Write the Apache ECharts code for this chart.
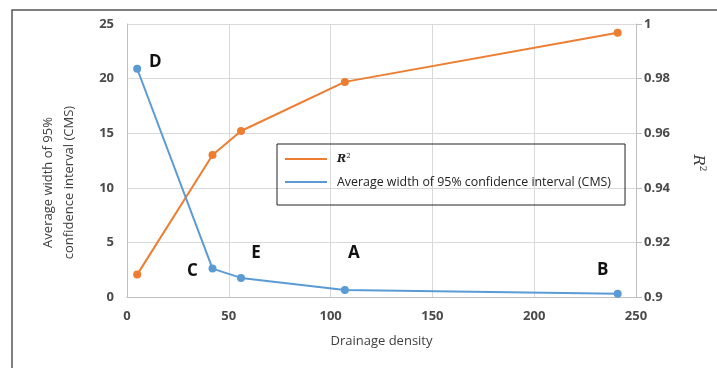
<!DOCTYPE html>
<html>
<head>
<meta charset="utf-8">
<script src="https://cdn.jsdelivr.net/npm/echarts@6/dist/echarts.min.js"></script>
<style>
html, body { margin: 0; padding: 0; background: #fff; }
#chart { width: 717px; height: 368px; }
</style>
</head>
<body>
<div id="chart"></div>
<script>
// values
const drainageDensity = [5, 42, 56, 107, 241]
const ciWidth = [20.9, 2.6, 1.75, 0.65, 0.3]
const rSquared = [0.9082, 0.952, 0.9608, 0.9788, 0.9968]
const pointNames = ['D', 'C', 'E', 'A', 'B']

// where each letter sits relative to its point
const letterOffsets = [[18, -7], [-20, 3], [15, -25], [9, -37], [-15, -24]]

const ORANGE = '#ED7D31'
const BLUE = '#5B9BD5'
const FONT = 'Open Sans'

const chart = echarts.init(document.getElementById('chart'))

const ciData = drainageDensity.map((x, i) => ({
    value: [x, ciWidth[i]],
    label: {
        show: true,
        formatter: pointNames[i],
        position: 'inside',
        offset: letterOffsets[i],
        fontSize: 17,
        fontWeight: 'bold',
        fontFamily: FONT,
        color: '#111'
    }
}))

const r2Data = drainageDensity.map((x, i) => [x, rSquared[i]])

const tickLabel = { fontSize: 13, fontWeight: 'bold', color: '#4a4a4a', fontFamily: FONT }

chart.setOption({
    animation: false,
    textStyle: { fontFamily: FONT },
    grid: { left: 127, right: 81, top: 24, bottom: 71 },
    graphic: [{
        type: 'rect',
        shape: { x: 12, y: 10, width: 720, height: 380 },
        style: { fill: 'none', stroke: '#555', lineWidth: 1.5 },
        silent: true
    }, {
        // right axis title, reads top to bottom
        type: 'text',
        x: 698,
        y: 163,
        rotation: -Math.PI / 2,
        style: {
            text: '{r|R}{s|2}',
            align: 'center',
            verticalAlign: 'middle',
            rich: {
                r: { fontSize: 15, fontStyle: 'italic', fontFamily: 'DejaVu Serif', fill: '#404040' },
                s: { fontSize: 9, fontFamily: 'DejaVu Serif', fill: '#404040', padding: [0, 0, 8, 0] }
            }
        },
        silent: true
    }],
    legend: {
        orient: 'vertical',
        left: 277,
        top: 144,
        padding: [8, 14, 16, 8],
        itemGap: 9,
        itemWidth: 42,
        itemHeight: 2,
        borderColor: '#222',
        borderWidth: 1,
        data: [
            { name: 'R2', icon: 'rect' },
            { name: 'width', icon: 'rect' }
        ],
        formatter: (name) => name === 'R2'
            ? '{r|R}{s|2}'
            : '{t|Average width of 95% confidence interval (CMS)}',
        textStyle: {
            fontSize: 12,
            color: '#222',
            fontFamily: FONT,
            lineHeight: 14,
            rich: {
                t: { fontSize: 12.4, color: '#222', fontFamily: FONT, padding: [0, 0, 0, 5] },
                r: { fontSize: 11, fontStyle: 'italic', fontWeight: 'bold', fontFamily: 'DejaVu Serif', color: '#222', padding: [0, 0, 0, 5] },
                s: { fontSize: 7, fontFamily: 'DejaVu Serif', color: '#222', padding: [0, 0, 6, 0] }
            }
        }
    },
    xAxis: {
        type: 'value',
        min: 0, max: 250, interval: 50,
        name: 'Drainage density',
        nameLocation: 'middle',
        nameGap: 38,
        nameTextStyle: { fontSize: 13, color: '#404040', fontFamily: FONT },
        axisLine: { show: true, lineStyle: { color: '#bfbfbf' } },
        axisTick: { show: false },
        axisLabel: Object.assign({ margin: 13 }, tickLabel),
        splitLine: { show: true, lineStyle: { color: '#d9d9d9' } }
    },
    yAxis: [{
        type: 'value',
        min: 0, max: 25, interval: 5,
        name: 'Average width of 95%\nconfidence interval (CMS)',
        nameLocation: 'middle',
        nameGap: 47,
        nameTextStyle: { fontSize: 13, color: '#404040', fontFamily: FONT, lineHeight: 21, padding: [0, 44, 0, 0] },
        axisLine: { show: true, lineStyle: { color: '#bfbfbf' } },
        axisTick: { show: false },
        axisLabel: Object.assign({ margin: 13 }, tickLabel),
        splitLine: { show: true, lineStyle: { color: '#d9d9d9' } }
    }, {
        type: 'value',
        position: 'right',
        min: 0.9, max: 1, interval: 0.02,
        axisLine: { show: true, lineStyle: { color: '#bfbfbf' } },
        axisTick: { show: true, length: 6, lineStyle: { color: '#bfbfbf' } },
        axisLabel: Object.assign({
            margin: 8,
            formatter: (v) => String(Math.round(v * 100) / 100)
        }, tickLabel),
        splitLine: { show: false }
    }],
    series: [{
        name: 'R2',
        type: 'line',
        yAxisIndex: 1,
        data: r2Data,
        symbol: 'circle',
        symbolSize: 8,
        color: ORANGE,
        lineStyle: { width: 2, color: ORANGE },
        itemStyle: { color: ORANGE }
    }, {
        name: 'width',
        type: 'line',
        yAxisIndex: 0,
        data: ciData,
        symbol: 'circle',
        symbolSize: 8,
        color: BLUE,
        lineStyle: { width: 2, color: BLUE },
        itemStyle: { color: BLUE }
    }]
})
</script>
</body>
</html>
